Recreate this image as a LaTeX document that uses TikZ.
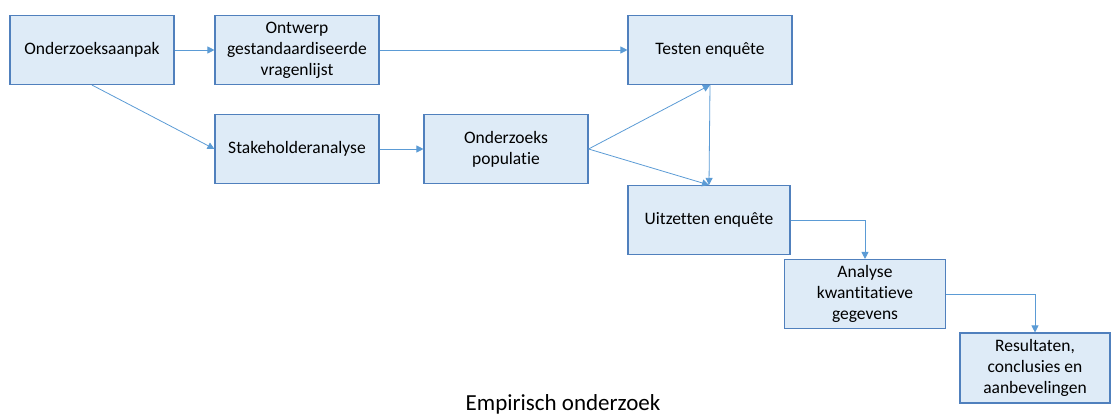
\documentclass[tikz,border=0pt]{standalone}
\usepackage{fontspec}
\setmainfont[Ligatures=NoCommon]{Carlito}
\usetikzlibrary{arrows.meta}

\definecolor{boxfill}{HTML}{DEEBF7}
\definecolor{boxline}{HTML}{5080BD}
\definecolor{flowline}{HTML}{5B9BD5}

\begin{document}
\begin{tikzpicture}[
        x=1pt, y=-1pt,
        stap/.style={draw=boxline, fill=boxfill, line width=1.1pt, align=center,
            minimum width=164pt, minimum height=69pt, inner sep=2pt,
            font=\fontsize{17.5}{21}\selectfont},
        flow/.style={draw=flowline, line width=0.8pt, -{Triangle[length=7pt, width=7pt]}}
    ]
        \useasboundingbox (0, 0) rectangle (1111, 415);

        \node[stap] (aanpak) at (92, 50) {Onderzoeksaanpak};
        \node[stap] (ontwerp) at (297, 50) {Ontwerp\\gestandaardiseerde\\vragenlijst};
        \node[stap] (testen) at (710, 50) {Testen enquête};
        \node[stap] (stakeholder) at (297, 149) {Stakeholderanalyse};
        \node[stap] (populatie) at (506, 149) {Onderzoeks\\populatie};
        \node[stap, minimum width=162pt] (uitzetten) at (709, 220) {Uitzetten enquête};
        \node[stap, minimum width=161pt] (analyse) at (865, 294) {Analyse\\kwantitatieve\\gegevens};
        \node[stap, minimum width=150pt, minimum height=70pt] (resultaten) at (1035, 368) {Resultaten,\\conclusies en\\aanbevelingen};

        \node[font=\fontsize{23}{27}\selectfont] (titel) at (563, 404) {Empirisch onderzoek};

        \draw[flow] (aanpak) -- (ontwerp);
        \draw[flow] (ontwerp) -- (testen);
        \draw[flow] (aanpak.south) -- (stakeholder.west);
        \draw[flow] (stakeholder) -- (populatie);
        \draw[flow] (populatie.east) -- (testen.south);
        \draw[flow] (populatie.east) -- (uitzetten.north);
        \draw[flow] (testen.south) -- (uitzetten.north);
        \draw[flow] (uitzetten.east) -| (analyse.north);
        \draw[flow] (analyse.east) -| (resultaten.north);
    \end{tikzpicture}
\end{document}
